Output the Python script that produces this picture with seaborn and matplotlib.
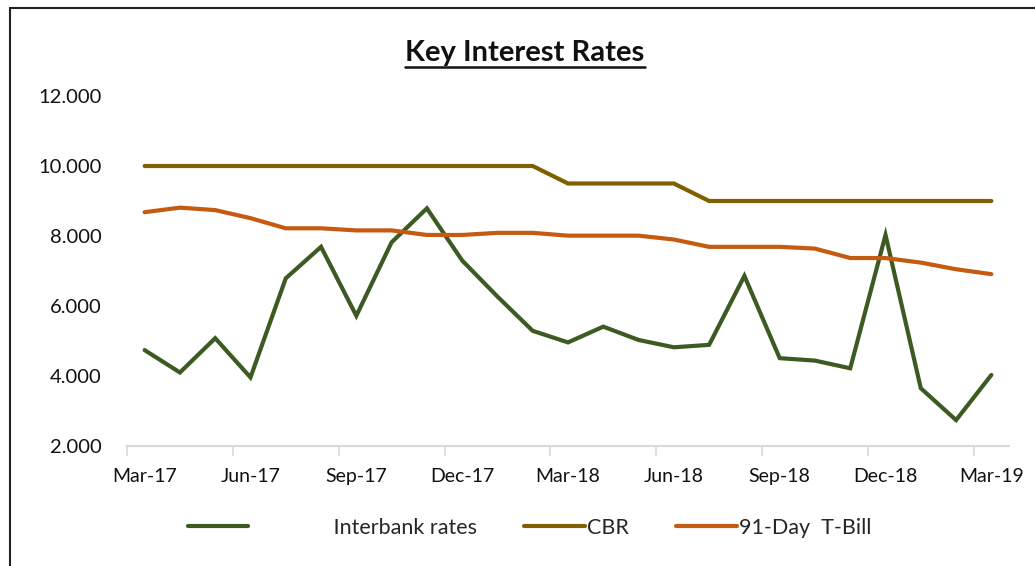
import matplotlib
matplotlib.use("Agg")
import matplotlib.pyplot as plt
from matplotlib.lines import Line2D
from matplotlib.patches import Rectangle
from matplotlib.ticker import FixedLocator, FuncFormatter
import seaborn as sns
import pandas as pd

# monthly observations, Mar-17 .. Mar-19
months = ["Mar-17", "Apr-17", "May-17", "Jun-17", "Jul-17", "Aug-17", "Sep-17",
          "Oct-17", "Nov-17", "Dec-17", "Jan-18", "Feb-18", "Mar-18", "Apr-18",
          "May-18", "Jun-18", "Jul-18", "Aug-18", "Sep-18", "Oct-18", "Nov-18",
          "Dec-18", "Jan-19", "Feb-19", "Mar-19"]

interbank = [4.74, 4.10, 5.08, 3.96, 6.79, 7.69, 5.72, 7.82, 8.79, 7.30, 6.27, 5.29,
             4.96, 5.41, 5.03, 4.82, 4.89, 6.86, 4.51, 4.44, 4.22, 8.03, 3.65, 2.74, 4.03]
cbr = [10.0] * 12 + [9.5] * 4 + [9.0] * 9
tbill = [8.68, 8.81, 8.74, 8.51, 8.22, 8.22, 8.16, 8.16, 8.03, 8.03, 8.09, 8.09,
         8.01, 8.01, 8.01, 7.90, 7.69, 7.69, 7.69, 7.64, 7.37, 7.37, 7.24, 7.05, 6.91]

series_names = ["Interbank rates", "CBR", "91-Day  T-Bill"]
colors = ["#3d5a22", "#7f6000", "#c55a11"]

df = pd.concat([
    pd.DataFrame({"idx": range(len(months)), "rate": vals, "series": name})
    for name, vals in zip(series_names, [interbank, cbr, tbill])
])

sns.set_theme(style="white")
plt.rcParams["font.family"] = ["Lato", "DejaVu Sans"]

W, H = 1035, 566
fig = plt.figure(figsize=(W / 100, H / 100), dpi=100)
ax = fig.add_axes([127 / W, 1 - 446 / H, (1009 - 127) / W, (446 - 96) / H])

sns.lineplot(data=df, x="idx", y="rate", hue="series", palette=colors,
             linewidth=3.0, ax=ax, legend=True, sort=False)
for ln in ax.lines:
    ln.set_solid_capstyle("round")
    ln.set_solid_joinstyle("miter")

ax.set_xlim(-0.5, len(months) - 0.5)
ax.set_ylim(2, 12)
ax.set_yticks([2, 4, 6, 8, 10, 12])
ax.yaxis.set_major_formatter(FuncFormatter(lambda v, p: "%.3f" % v))
ax.set_xticks(range(0, len(months), 3))
ax.set_xticklabels(months[::3])
ax.xaxis.set_minor_locator(FixedLocator([i - 0.5 for i in range(0, len(months), 3)]))
ax.tick_params(axis="x", which="major", length=0, pad=16, labelsize=14, colors="#111111")
ax.tick_params(axis="x", which="minor", length=7, width=1.2, color="#d9d9d9", bottom=True)
ax.tick_params(axis="y", length=0, pad=18, labelsize=14.5, colors="#111111")
ax.set_xlabel("")
ax.set_ylabel("")

for s in ["top", "right", "left"]:
    ax.spines[s].set_visible(False)
ax.spines["bottom"].set_color("#d9d9d9")
ax.spines["bottom"].set_linewidth(1.5)

# legend below the plot
handles, labels = ax.get_legend_handles_labels()
ax.legend_.remove()
leg_labels = [" " * 15 + series_names[0], series_names[1], series_names[2]]
fig.legend(handles, leg_labels, loc="center", bbox_to_anchor=(0.512, 1 - 528 / H),
           ncol=3, frameon=False, fontsize=15.5, handlelength=2.8,
           handletextpad=0.12, columnspacing=2.2)

# title with underline
title = fig.text(525 / W, 1 - 53 / H, "Key Interest Rates", ha="center", va="center",
                 fontsize=21, fontweight="bold", color="#111111")
fig.canvas.draw()
bb = title.get_window_extent(fig.canvas.get_renderer())
uy = bb.y0 - 1
fig.add_artist(Line2D([bb.x0 / W, bb.x1 / W], [uy / H, uy / H],
                      transform=fig.transFigure, color="#111111", linewidth=1.8))

# outer chart border (cropped at right and bottom)
fig.add_artist(Rectangle((10 / W, -0.05), 1.1, 1 - 8 / H + 0.05, transform=fig.transFigure,
                         fill=False, edgecolor="#222222", linewidth=1.5))

fig.savefig("out.png", dpi=100)
